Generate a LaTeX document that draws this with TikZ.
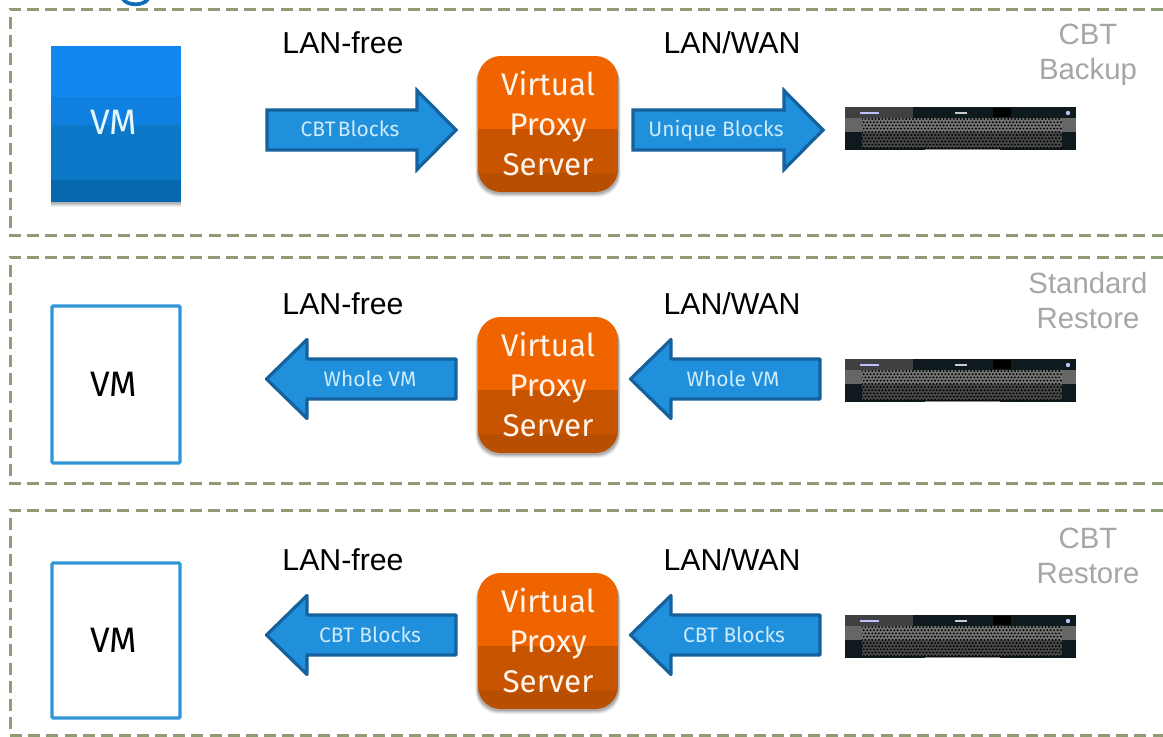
\documentclass[tikz,border=0pt]{standalone}
\usepackage{fontspec}
\setmainfont{Fira Sans}
\newfontfamily\lib{Liberation Sans}
\definecolor{panelc}{HTML}{8F9C75}
\definecolor{arrowfill}{HTML}{2090DC}
\definecolor{arrowline}{HTML}{14619C}
\definecolor{arrowtext}{HTML}{CDEBFA}
\definecolor{vmline}{HTML}{2F96D6}
\definecolor{orangeA}{HTML}{F06400}
\definecolor{orangeB}{HTML}{C95400}
\definecolor{orangeC}{HTML}{B84E00}
\definecolor{blueA}{HTML}{1188EE}
\definecolor{blueB}{HTML}{0F80E0}
\definecolor{blueC}{HTML}{0B78C8}
\definecolor{blueD}{HTML}{0768B0}
\definecolor{greytext}{HTML}{A6A6A6}
\definecolor{srvdark}{HTML}{0F1A1E}
\definecolor{titleblue}{HTML}{0E6FB8}
\tikzset{
  panelbox/.style={draw=panelc,line width=2.25pt,dash pattern=on 9pt off 4.6pt},
  blockarrow/.style={draw=arrowline,fill=arrowfill,line width=2.4pt,miter limit=10},
  roundarrow/.style={blockarrow,line join=round},
  arrowlabel/.style={text=arrowtext,font=\fontsize{15.7}{15.7}\selectfont,inner sep=0pt,anchor=base},
  vmlabel/.style={font=\fontsize{26.5}{26.5}\selectfont,inner sep=0pt,anchor=base},
  netlabel/.style={font=\lib\fontsize{22.7}{22.7}\selectfont,inner sep=0pt,anchor=base},
  sidelabel/.style={font=\lib\fontsize{22}{22}\selectfont,text=greytext,inner sep=0pt,anchor=base},
  proxylabel/.style={text=white!92!orange,font=\fontsize{23.5}{23.5}\selectfont,inner sep=0pt,anchor=base},
  emptyvm/.style={draw=vmline,line width=2.3pt,fill=white,rounded corners=0.8pt}
}
\newcommand{\proxybox}[2]{%
  \foreach \s/\o in {5/0.06,4/0.08,3/0.10,2/0.12}
    \fill[black,opacity=\o,rounded corners=17pt] (478-\s/2,#1+\s) rectangle (618+\s/2,#1+136+\s);
  \begin{scope}
    \clip[rounded corners=17pt] (478,#1) rectangle (618,#1+136);
    \fill[orangeA] (478,#1) rectangle (618,#1+73);
    \fill[orangeB] (478,#1+73) rectangle (618,#1+117);
    \fill[orangeC] (478,#1+117) rectangle (618,#1+137);
  \end{scope}
  \node[proxylabel] (#2a) at (548,#1+39) {Virtual};
  \node[proxylabel] (#2b) at (548,#1+79) {Proxy};
  \node[proxylabel] (#2c) at (548,#1+119) {Server};
}
\newcommand{\serverbox}[1]{%
  \fill[srvdark] (845,#1) rectangle (1076,#1+43);
  \fill[black!75] (845,#1) rectangle (913,#1+11);
  \fill[black] (993,#1+1) rectangle (1011,#1+10);
  \fill[black!60] (845,#1+11) rectangle (862,#1+25);
  \fill[black!60] (1062,#1+11) rectangle (1076,#1+25);
  \fill[black!55] (862,#1+11) rectangle (1062,#1+25);
  \fill[black!72] (862,#1+25) rectangle (1062,#1+41);
  \fill[blue!25!white] (860,#1+5) rectangle (879,#1+7);
  \fill[white!80!black] (955,#1+5) rectangle (967,#1+7);
  \fill[blue!25!white] (1068,#1+6) circle[radius=2.2];
  \fill[black!45] (925,#1+41.5) rectangle (1000,#1+43);
  \begin{scope}
    \clip (862,#1+11) rectangle (1062,#1+41);
    \foreach \r in {0,...,9}{
      \pgfmathsetmacro{\yy}{#1+12+\r*3.2}
      \pgfmathsetmacro{\xo}{862+mod(\r,2)*1.7}
      \foreach \c in {0,...,58}
        \fill[black] (\xo+\c*3.4,\yy) circle[radius=1.05];
    }
  \end{scope}
}
\newcommand{\rarrow}[4]{%
  \draw[blockarrow] (#1,#4-20) -- (#2,#4-20) -- (#2,#4-39.5) -- (#3,#4) -- (#2,#4+39.5) -- (#2,#4+20) -- (#1,#4+20) -- cycle;
}
\newcommand{\larrow}[4]{%
  \draw[roundarrow] (#1,#4-20) -- (#2,#4-20) -- (#2,#4-39.5) -- (#3,#4) -- (#2,#4+39.5) -- (#2,#4+20) -- (#1,#4+20) -- cycle;
}
\begin{document}
\begin{tikzpicture}[x=0.75pt,y=-0.75pt]
\useasboundingbox (0,0) rectangle (1163,736);
\clip (0,0) rectangle (1163,736);
\fill[white] (0,0) rectangle (1163,736);
% cropped title fragment
\draw[titleblue,line width=2.8pt] (123,-1) .. controls (127,6) and (144,6) .. (148,-1);
% panels
\draw[panelbox] (1163,9) -- (10,9) -- (10,235) -- (1163,235);
\draw[panelbox] (1163,257) -- (10,257) -- (10,483) -- (1163,483);
\draw[panelbox] (1163,510) -- (10,510) -- (10,735) -- (1163,735);
% row 1
\foreach \s/\o in {5/0.05,4/0.07,3/0.09,2/0.11}
  \fill[black,opacity=\o] (51,46+\s) rectangle (181,202+\s);
\fill[blueA] (51,46) rectangle (181,97);
\fill[blueB] (51,97) rectangle (181,125);
\fill[blueC] (51,125) rectangle (181,180);
\fill[blueD] (51,180) rectangle (181,202);
\node[vmlabel,text=white!90!cyan] (vm1) at (113.5,134) {VM};
\node[netlabel] (lf1) at (343,53) {LAN-free};
\node[netlabel] (lw1) at (732,53) {LAN/WAN};
\rarrow{267}{417}{456}{130}
\node[arrowlabel] (a1) at (350,136) {CBT\kern-2.4pt\ Blocks};
\proxybox{56}{p1}
\rarrow{633}{784}{823}{130}
\node[arrowlabel] (a2) at (716,136) {Unique Blocks};
\serverbox{107}
\node[sidelabel] (s1a) at (1088,44) {CBT};
\node[sidelabel] (s1b) at (1088,79) {Backup};
% row 2
\draw[emptyvm] (52,306) rectangle (180,463);
\node[vmlabel] (vm2) at (113.5,396) {VM};
\node[netlabel] (lf2) at (343,314) {LAN-free};
\node[netlabel] (lw2) at (732,314) {LAN/WAN};
\larrow{456}{307}{266.5}{379}
\node[arrowlabel] (a3) at (370,386) {Whole VM};
\proxybox{317}{p2}
\larrow{820}{671}{630.5}{379}
\node[arrowlabel] (a4) at (733,386) {Whole VM};
\serverbox{359}
\node[sidelabel] (s2a) at (1088,293) {Standard};
\node[sidelabel] (s2b) at (1088,328) {Restore};
% row 3
\draw[emptyvm] (52,563) rectangle (180,718);
\node[vmlabel] (vm3) at (113.5,652) {VM};
\node[netlabel] (lf3) at (343,570) {LAN-free};
\node[netlabel] (lw3) at (732,570) {LAN/WAN};
\larrow{456}{307}{266.5}{635}
\node[arrowlabel] (a5) at (370,642) {CBT Blocks};
\proxybox{573}{p3}
\larrow{820}{671}{630.5}{635}
\node[arrowlabel] (a6) at (734,642) {CBT Blocks};
\serverbox{615}
\node[sidelabel] (s3a) at (1088,548) {CBT};
\node[sidelabel] (s3b) at (1088,583) {Restore};
\end{tikzpicture}
\end{document}
